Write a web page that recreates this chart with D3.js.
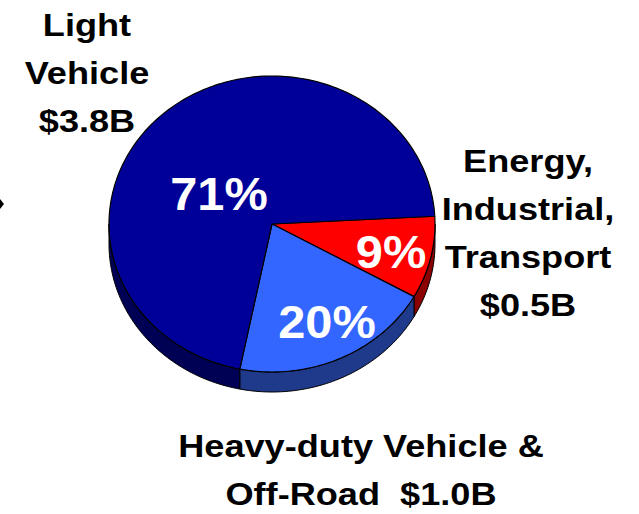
<!DOCTYPE html>
<html>
<head>
<meta charset="utf-8">
<script src="https://cdn.jsdelivr.net/npm/d3@7"></script>
<style>
  body { margin: 0; background: #fff; }
  text { font-family: Arial, "Liberation Sans", sans-serif; font-weight: bold; }
</style>
</head>
<body>
<div id="chart"></div>
<script>
// market split, in the order the slices run clockwise from the right edge
const categories = ["Energy, Industrial, Transport", "Heavy-duty Vehicle & Off-Road", "Light Vehicle"]
const shares = [9, 20, 71]
const amounts = ["$0.5B", "$1.0B", "$3.8B"]

const topColors = ["#FF0000", "#3366FF", "#000099"]
const sideColors = ["#8B0000", "#1F3A8A", "#000055"]

const svg = d3.select("#chart").append("svg").attr("width", 639).attr("height", 514)

// tilted pie: ellipse centre, radii and wall depth
const cx = 272, cy = 224, rx = 163, ry = 148, depth = 20
const start = 87 * Math.PI / 180

const pie = d3.pie().sort(null).startAngle(start).endAngle(start + 2 * Math.PI)
const arcs = pie(shares)

function pt(a, dy) {
  return [cx + rx * Math.sin(a), cy - ry * Math.cos(a) + (dy || 0)]
}
function ring(a0, a1, dy) {
  const n = Math.max(2, Math.ceil((a1 - a0) / 0.02))
  return d3.range(n + 1).map(i => pt(a0 + (a1 - a0) * i / n, dy))
}
const line = d3.line()

// side walls, only the front half (pi/2 .. 3pi/2) can be seen
const front = [Math.PI / 2, 3 * Math.PI / 2]
arcs.forEach((d, i) => {
  const a0 = Math.max(d.startAngle, front[0]), a1 = Math.min(d.endAngle, front[1])
  if (a1 <= a0) return
  const pts = ring(a0, a1, 0).concat(ring(a0, a1, depth).reverse())
  svg.append("path").attr("d", line(pts) + "Z")
    .attr("fill", sideColors[i]).attr("stroke", "#000").attr("stroke-width", 1)
    .attr("stroke-linejoin", "round")
})

// top faces
arcs.forEach((d, i) => {
  const pts = [[cx, cy]].concat(ring(d.startAngle, d.endAngle, 0))
  svg.append("path").attr("d", line(pts) + "Z")
    .attr("fill", topColors[i]).attr("stroke", "#000").attr("stroke-width", 1.2)
    .attr("stroke-linejoin", "round")
})

// percentage labels on the slices (text is drawn a little wide, like the original)
const pctPos = [[391, 268], [327, 338], [219, 210]]
arcs.forEach((d, i) => {
  svg.append("text")
    .attr("transform", `translate(${pctPos[i][0]},${pctPos[i][1]}) scale(1.06,1)`)
    .attr("text-anchor", "middle").attr("fill", "#fff").style("font-size", "46px")
    .text(d.data + "%")
})

// category labels around the pie
const labelLines = [
  ["Energy,", "Industrial,", "Transport", amounts[0]],
  ["Heavy-duty Vehicle &", "Off-Road  " + amounts[1]],
  ["Light", "Vehicle", amounts[2]]
]
const labelPos = [[528, 172], [361, 457], [87, 36]]
labelLines.forEach((lines, i) => {
  const t = svg.append("text")
    .attr("transform", `translate(${labelPos[i][0]},${labelPos[i][1]}) scale(1.13,1)`)
    .attr("text-anchor", "middle").attr("fill", "#000")
    .style("font-size", "32px").attr("xml:space", "preserve")
  lines.forEach((s, j) => {
    t.append("tspan").attr("x", 0).attr("y", j * 48).text(s)
  })
})

// clipped arrow tip at the left border
svg.append("path").attr("d", "M0,199L4,204L0,209Z").attr("fill", "#000")
</script>
</body>
</html>
